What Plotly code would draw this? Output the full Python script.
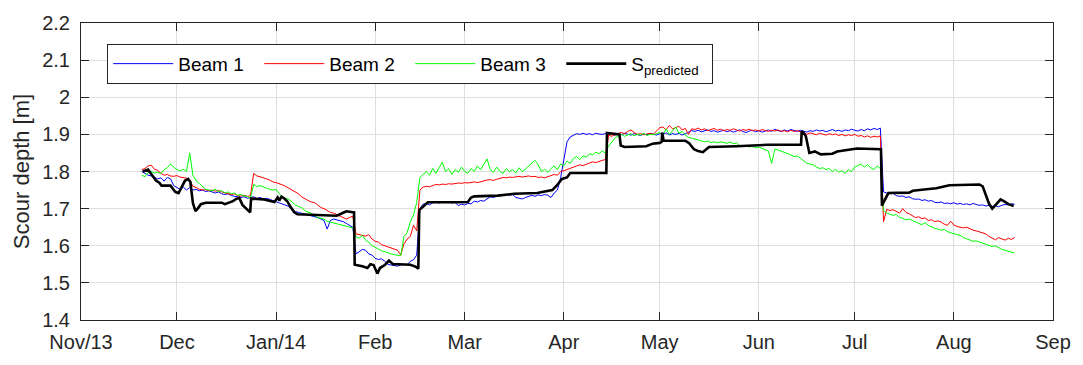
import pandas as pd
import plotly.graph_objects as go

# ---------------- data ----------------
BEAM_START = "2013-11-20"   # daily readings
BEAM1 = [
    1.800, 1.795, 1.790, 1.788, 1.785, 1.780, 1.783, 1.774, 1.784, 1.780,
    1.762, 1.757, 1.752, 1.758, 1.750, 1.757, 1.750, 1.752, 1.748, 1.750,
    1.746, 1.748, 1.744, 1.742, 1.745, 1.740, 1.738, 1.740, 1.735, 1.734,
    1.732, 1.730, 1.732, 1.728, 1.730, 1.732, 1.727, 1.730, 1.726, 1.728,
    1.725, 1.722, 1.718, 1.715, 1.712, 1.708, 1.706, 1.698, 1.692, 1.690,
    1.688, 1.686, 1.684, 1.682, 1.680, 1.676, 1.672, 1.668, 1.645, 1.668,
    1.672, 1.670, 1.668, 1.665, 1.660, 1.655, 1.650, 1.578, 1.585, 1.590,
    1.588, 1.578, 1.575, 1.566, 1.563, 1.565, 1.558, 1.550, 1.548, 1.546,
    1.545, 1.548, 1.550, 1.549, 1.558, 1.562, 1.575, 1.700, 1.712, 1.714,
    1.710, 1.716, 1.718, 1.715, 1.718, 1.716, 1.719, 1.715, 1.717, 1.708,
    1.712, 1.710, 1.714, 1.713, 1.720, 1.718, 1.722, 1.720, 1.726, 1.732,
    1.730, 1.734, 1.737, 1.735, 1.738, 1.736, 1.738, 1.730, 1.728, 1.726,
    1.730, 1.734, 1.736, 1.733, 1.737, 1.735, 1.738, 1.736, 1.730, 1.742,
    1.750, 1.783, 1.830, 1.880, 1.893, 1.898, 1.902, 1.900, 1.903, 1.900,
    1.902, 1.899, 1.903, 1.901, 1.900, 1.902, 1.900, 1.902, 1.898, 1.901,
    1.899, 1.903, 1.900, 1.898, 1.902, 1.900, 1.897, 1.901, 1.899, 1.903,
    1.900, 1.898, 1.902, 1.900, 1.904, 1.899, 1.902, 1.900, 1.903, 1.898,
    1.902, 1.906, 1.910, 1.908, 1.911, 1.907, 1.909, 1.912, 1.908, 1.910,
    1.906, 1.909, 1.911, 1.907, 1.910, 1.906, 1.909, 1.912, 1.908, 1.905,
    1.909, 1.911, 1.907, 1.910, 1.906, 1.909, 1.912, 1.908, 1.914, 1.910,
    1.908, 1.912, 1.909, 1.913, 1.910, 1.908, 1.911, 1.909, 1.906, 1.910,
    1.908, 1.912, 1.909, 1.911, 1.907, 1.910, 1.913, 1.909, 1.911, 1.908,
    1.912, 1.910, 1.914, 1.911, 1.909, 1.913, 1.910, 1.915, 1.912, 1.916,
    1.913, 1.917, 1.745, 1.742, 1.740, 1.741, 1.735, 1.733, 1.734, 1.730,
    1.732, 1.727, 1.725, 1.726, 1.722, 1.724, 1.720, 1.722, 1.717, 1.716,
    1.718, 1.714, 1.715, 1.713, 1.716, 1.712, 1.714, 1.711, 1.713, 1.710,
    1.714, 1.711, 1.709, 1.710, 1.707, 1.709, 1.706, 1.708, 1.705, 1.709,
    1.711, 1.710, 1.713, 1.712,
]
BEAM2 = [
    1.805, 1.808, 1.815, 1.817, 1.806, 1.803, 1.795, 1.790, 1.792, 1.788,
    1.787, 1.789, 1.785, 1.784, 1.782, 1.778, 1.760, 1.757, 1.752, 1.750,
    1.751, 1.748, 1.750, 1.747, 1.749, 1.745, 1.742, 1.741, 1.738, 1.740,
    1.735, 1.734, 1.736, 1.733, 1.735, 1.795, 1.788, 1.786, 1.782, 1.780,
    1.777, 1.772, 1.770, 1.768, 1.764, 1.760, 1.755, 1.750, 1.745, 1.740,
    1.732, 1.726, 1.722, 1.718, 1.716, 1.710, 1.703, 1.700, 1.694, 1.690,
    1.688, 1.684, 1.680, 1.676, 1.672, 1.676, 1.680, 1.632, 1.630, 1.628,
    1.626, 1.630, 1.618, 1.612, 1.610, 1.603, 1.600, 1.596, 1.593, 1.590,
    1.588, 1.575, 1.605, 1.618, 1.625, 1.655, 1.640, 1.750, 1.758, 1.760,
    1.759, 1.762, 1.765, 1.764, 1.766, 1.765, 1.767, 1.766, 1.768, 1.769,
    1.768, 1.770, 1.769, 1.771, 1.772, 1.770, 1.773, 1.775, 1.777, 1.778,
    1.776, 1.779, 1.782, 1.784, 1.783, 1.785, 1.784, 1.786, 1.787, 1.785,
    1.786, 1.788, 1.786, 1.787, 1.784, 1.785, 1.783, 1.786, 1.790, 1.792,
    1.790, 1.800, 1.802, 1.805, 1.810, 1.812, 1.815, 1.818, 1.816, 1.820,
    1.822, 1.826, 1.824, 1.828, 1.830, 1.832, 1.898, 1.895, 1.900, 1.903,
    1.905, 1.902, 1.908, 1.912, 1.905, 1.900, 1.902, 1.899, 1.901, 1.903,
    1.900, 1.910, 1.918, 1.920, 1.912, 1.924, 1.915, 1.918, 1.922, 1.912,
    1.916, 1.900, 1.915, 1.913, 1.917, 1.912, 1.915, 1.910, 1.913, 1.916,
    1.911, 1.914, 1.910, 1.913, 1.911, 1.915, 1.912, 1.909, 1.913, 1.911,
    1.914, 1.910, 1.912, 1.909, 1.913, 1.910, 1.908, 1.911, 1.909, 1.912,
    1.908, 1.910, 1.907, 1.911, 1.908, 1.910, 1.906, 1.903, 1.900, 1.904,
    1.901, 1.899, 1.903, 1.900, 1.898, 1.902, 1.899, 1.901, 1.897, 1.900,
    1.896, 1.899, 1.897, 1.900, 1.895, 1.897, 1.893, 1.896, 1.892, 1.895,
    1.893, 1.896, 1.665, 1.698, 1.695, 1.697, 1.692, 1.688, 1.700, 1.690,
    1.686, 1.680, 1.676, 1.678, 1.673, 1.675, 1.668, 1.670, 1.665, 1.667,
    1.664, 1.658, 1.655, 1.666, 1.656, 1.652, 1.650, 1.648, 1.650, 1.645,
    1.642, 1.640, 1.638, 1.636, 1.632, 1.625, 1.620, 1.616, 1.622, 1.618,
    1.615, 1.620, 1.617, 1.622,
]
BEAM3 = [
    1.790, 1.786, 1.798, 1.800, 1.796, 1.798, 1.794, 1.805, 1.810, 1.820,
    1.812, 1.805, 1.802, 1.806, 1.800, 1.850, 1.790, 1.775, 1.768, 1.760,
    1.752, 1.750, 1.748, 1.752, 1.746, 1.748, 1.742, 1.745, 1.740, 1.742,
    1.736, 1.738, 1.734, 1.733, 1.728, 1.765, 1.760, 1.762, 1.758, 1.755,
    1.752, 1.750, 1.752, 1.740, 1.732, 1.728, 1.725, 1.718, 1.710, 1.706,
    1.703, 1.695, 1.690, 1.688, 1.682, 1.676, 1.674, 1.672, 1.666, 1.664,
    1.662, 1.660, 1.658, 1.656, 1.654, 1.652, 1.648, 1.625, 1.620, 1.628,
    1.615, 1.610, 1.600, 1.596, 1.590, 1.586, 1.584, 1.580, 1.578, 1.576,
    1.575, 1.573, 1.625, 1.635, 1.665, 1.683, 1.717, 1.784, 1.792, 1.800,
    1.790, 1.808, 1.795, 1.812, 1.825, 1.800, 1.808, 1.792, 1.805, 1.798,
    1.812, 1.800, 1.795, 1.808, 1.800, 1.815, 1.805, 1.820, 1.834, 1.805,
    1.798, 1.812, 1.800, 1.795, 1.808, 1.800, 1.805, 1.796, 1.810, 1.800,
    1.806, 1.815, 1.822, 1.830, 1.818, 1.800, 1.806, 1.798, 1.808, 1.815,
    1.805, 1.820, 1.815, 1.828, 1.822, 1.835, 1.840, 1.832, 1.842, 1.838,
    1.848, 1.845, 1.852, 1.848, 1.855, 1.850, 1.868, 1.880, 1.890, 1.896,
    1.900, 1.895, 1.898, 1.902, 1.896, 1.900, 1.898, 1.903, 1.897, 1.900,
    1.899, 1.902, 1.905, 1.898, 1.915, 1.900, 1.910, 1.920, 1.903, 1.908,
    1.898, 1.892, 1.890, 1.888, 1.885, 1.882, 1.880, 1.882, 1.878, 1.880,
    1.877, 1.880, 1.878, 1.876, 1.879, 1.875, 1.877, 1.870, 1.868, 1.870,
    1.866, 1.868, 1.864, 1.866, 1.862, 1.858, 1.855, 1.822, 1.860, 1.858,
    1.855, 1.852, 1.848, 1.845, 1.840, 1.842, 1.836, 1.828, 1.822, 1.820,
    1.818, 1.812, 1.808, 1.810, 1.805, 1.808, 1.800, 1.806, 1.798, 1.802,
    1.795, 1.805, 1.800, 1.812, 1.815, 1.820, 1.812, 1.818, 1.810, 1.805,
    1.815, 1.808, 1.695, 1.688, 1.685, 1.682, 1.684, 1.676, 1.674, 1.670,
    1.672, 1.668, 1.662, 1.660, 1.657, 1.662, 1.655, 1.650, 1.647, 1.645,
    1.642, 1.644, 1.638, 1.635, 1.632, 1.630, 1.628, 1.622, 1.618, 1.615,
    1.612, 1.613, 1.610, 1.605, 1.602, 1.600, 1.598, 1.600, 1.594, 1.590,
    1.588, 1.585, 1.582, 1.580,
]

S_ORIGIN = "2013-11-01"   # S_predicted given as (days since origin, value)
S_DAYS = [
    19.3, 21.0, 21.8, 23.5, 24.5, 25.2, 28.0, 29.5, 30.5, 31.5, 32.5, 33.5, 34.2,
    35.0, 35.8, 36.5, 37.5, 39.0, 44.0, 45.0, 46.5, 47.5, 48.5, 49.5, 50.5, 52.0,
    52.9, 53.2, 57.0, 60.5, 61.5, 62.0, 62.7, 63.5, 64.5, 65.5, 66.7, 67.7, 75.0,
    80.0, 82.0, 83.0, 85.4, 85.6, 88.0, 89.6, 90.5, 91.5, 92.7, 93.5, 95.0, 96.3,
    97.5, 103.0, 104.6, 105.5, 105.8, 107.2, 108.5, 118.0, 121.0, 122.0, 123.0,
    130.4, 135.5, 142.7, 145.8, 147.4, 148.9, 150.4, 152.0, 153.0, 164.3, 164.5,
    168.4, 168.8, 170.0, 176.8, 178.8, 181.0, 181.6, 181.8, 182.2, 189.0, 190.2,
    191.7, 193.0, 194.5, 195.2, 196.4, 205.0, 215.0, 225.2, 225.4, 226.0, 226.7,
    227.8, 229.5, 231.4, 235.0, 236.5, 239.6, 242.7, 250.2, 250.5, 251.0, 252.5,
    259.0, 260.2, 264.4, 267.5, 271.6, 281.0, 282.0, 284.0, 285.0, 286.0, 287.6,
    289.0, 290.1, 291.7,
]
S_VALUES = [
    1.800, 1.805, 1.795, 1.775, 1.770, 1.762, 1.762, 1.745, 1.742, 1.758, 1.775, 1.780, 1.772,
    1.715, 1.693, 1.700, 1.712, 1.716, 1.716, 1.712, 1.716, 1.720, 1.726, 1.729, 1.710, 1.698,
    1.690, 1.727, 1.725, 1.718, 1.730, 1.722, 1.732, 1.728, 1.720, 1.705, 1.690, 1.685, 1.683,
    1.681, 1.689, 1.693, 1.690, 1.549, 1.545, 1.540, 1.550, 1.548, 1.525, 1.540, 1.548, 1.560,
    1.551, 1.549, 1.544, 1.538, 1.696, 1.708, 1.717, 1.717, 1.718, 1.730, 1.733,
    1.735, 1.740, 1.742, 1.746, 1.750, 1.763, 1.780, 1.784, 1.796, 1.796, 1.904,
    1.900, 1.870, 1.866, 1.868, 1.875, 1.877, 1.880, 1.905, 1.883, 1.883, 1.876,
    1.860, 1.855, 1.852, 1.857, 1.866, 1.868, 1.872, 1.872, 1.908, 1.904, 1.895,
    1.850, 1.854, 1.846, 1.848, 1.854, 1.858, 1.862, 1.860, 1.708, 1.717, 1.742,
    1.743, 1.748, 1.752, 1.755, 1.763, 1.765, 1.760, 1.713, 1.700, 1.710, 1.725,
    1.718, 1.712, 1.707,
]

MONTH_TICKS = ["2013-11-01", "2013-12-01", "2014-01-01", "2014-02-01", "2014-03-01",
               "2014-04-01", "2014-05-01", "2014-06-01", "2014-07-01", "2014-08-01",
               "2014-09-01"]
MONTH_LABELS = ["Nov/13", "Dec", "Jan/14", "Feb", "Mar", "Apr", "May", "Jun", "Jul",
                "Aug", "Sep"]
Y_TICKS = [1.4, 1.5, 1.6, 1.7, 1.8, 1.9, 2.0, 2.1, 2.2]
Y_LABELS = ["1.4", "1.5", "1.6", "1.7", "1.8", "1.9", "2", "2.1", "2.2"]

# ---------------- figure ----------------
beam_dates = pd.date_range(BEAM_START, periods=len(BEAM1), freq="D")
s_dates = pd.Timestamp(S_ORIGIN) + pd.to_timedelta(S_DAYS, unit="D")

FONT = "Arial, 'Liberation Sans', Helvetica, sans-serif"
AX = "#262626"

fig = go.Figure()
fig.add_trace(go.Scatter(x=beam_dates, y=BEAM1, mode="lines", name="Beam 1",
                         line=dict(color="#0000ff", width=1)))
fig.add_trace(go.Scatter(x=beam_dates, y=BEAM2, mode="lines", name="Beam 2",
                         line=dict(color="#ff0000", width=1)))
fig.add_trace(go.Scatter(x=beam_dates, y=BEAM3, mode="lines", name="Beam 3",
                         line=dict(color="#00ff00", width=1)))
fig.add_trace(go.Scatter(x=s_dates, y=S_VALUES, mode="lines", name="S<sub>predicted</sub>",
                         line=dict(color="#000000", width=2.6)))

fig.update_layout(
    width=1083, height=365,
    margin=dict(l=81, r=19, t=15, b=34),
    paper_bgcolor="white", plot_bgcolor="white",
    font=dict(family=FONT, size=19, color=AX),
    showlegend=True,
    legend=dict(orientation="h", x=0.027, y=0.93, xanchor="left", yanchor="top",
                bgcolor="white", bordercolor=AX, borderwidth=1,
                font=dict(family=FONT, size=19, color="#000000"),
                entrywidth=76, entrywidthmode="pixels",
                itemwidth=60, tracegroupgap=0),
)
fig.update_xaxes(
    type="date", range=["2013-11-01", "2014-09-01"],
    tickmode="array", tickvals=MONTH_TICKS, ticktext=MONTH_LABELS,
    showgrid=True, gridcolor="#dedede", gridwidth=1,
    showline=True, linecolor=AX, linewidth=1, mirror="ticks",
    ticks="inside", ticklen=8, tickcolor=AX, ticklabelstandoff=4,
    tickfont=dict(family=FONT, size=20, color=AX), zeroline=False,
)
fig.update_yaxes(
    range=[1.4, 2.2], tickmode="array", tickvals=Y_TICKS, ticktext=Y_LABELS,
    showgrid=True, gridcolor="#dedede", gridwidth=1,
    showline=True, linecolor=AX, linewidth=1, mirror="ticks",
    ticks="inside", ticklen=8, tickcolor=AX, ticklabelstandoff=6,
    tickfont=dict(family=FONT, size=20, color=AX), zeroline=False,
    title=dict(text="Scour depth [m]", font=dict(family=FONT, size=22, color=AX), standoff=6),
)

fig.write_html("out.html")
